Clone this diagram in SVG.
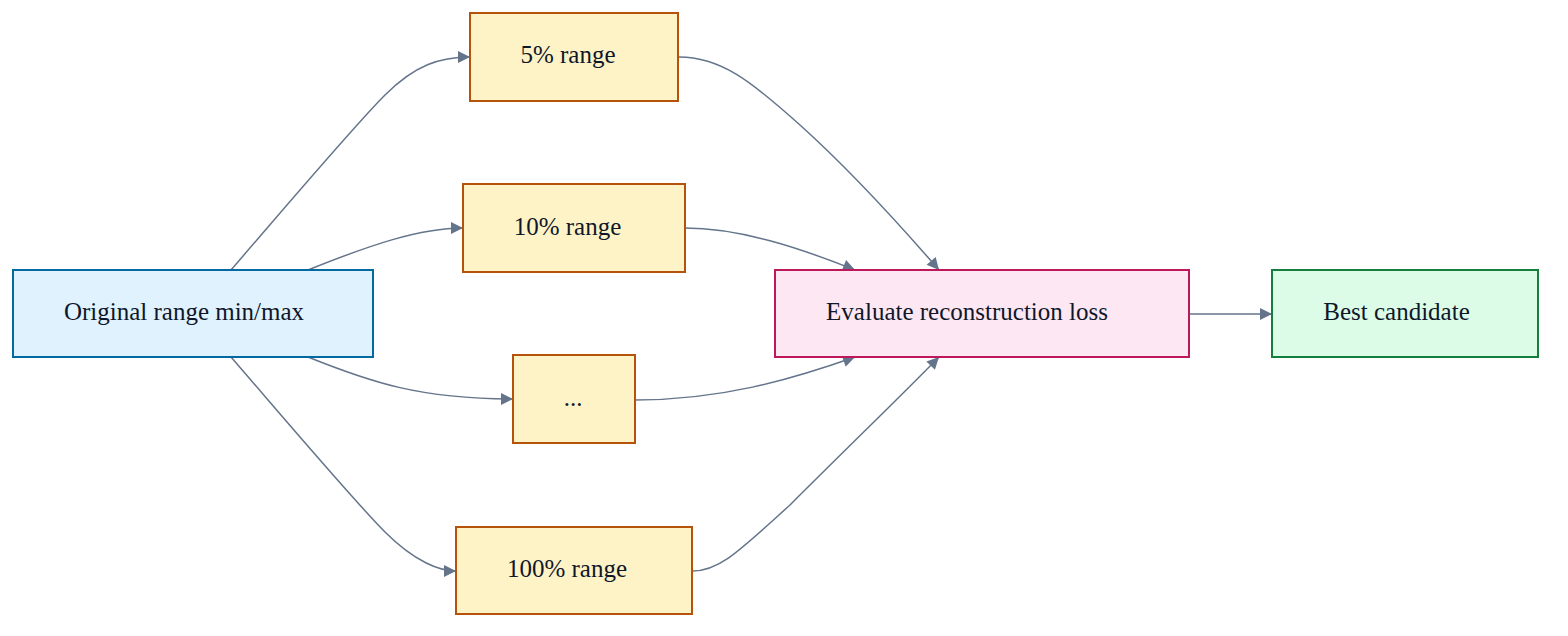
<svg xmlns="http://www.w3.org/2000/svg" width="1568" height="636" viewBox="0 0 1568 636">
<defs>
<style>
.n rect{stroke-width:2}
.t{font-family:"Liberation Serif","Times New Roman",serif;font-size:25px;fill:#0f172a;text-anchor:middle}
.blue rect{fill:#e0f2fe;stroke:#0369a1}
.yel rect{fill:#fef3c7;stroke:#b45309}
.pink rect{fill:#fce7f3;stroke:#be185d}
.green rect{fill:#dcfce7;stroke:#15803d}
.e path{fill:none;stroke:#64748b;stroke-width:1.5;marker-end:url(#arr)}
</style>
<marker id="arr" viewBox="0 0 10 10" refX="10" refY="5" markerUnits="userSpaceOnUse" markerWidth="14" markerHeight="12" orient="auto">
<path d="M0,0 L10,5 L0,10 z" fill="#64748b"/>
</marker>
</defs>
<rect width="1568" height="636" fill="#ffffff"/>
<g id="edges" class="e">
<path d="M231,270 C300,190 355,125 385,95 C415,65 440,57 470,57"/>
<path d="M308,270 C370,245 420,228 463,228"/>
<path d="M308,357 C370,382 420,399 513,399"/>
<path d="M231,357 C300,437 355,502 385,532 C415,562 440,571 456,571"/>
<path d="M679,57 C720,57 750,80 800,125 C850,170 900,225 939,270"/>
<path d="M685,228 C740,228 800,248 855,270"/>
<path d="M635,400 C720,400 790,380 855,357"/>
<path d="M692,571 C720,571 740,550 790,505 C850,445 900,397 939,357"/>
<path d="M1189,314 L1272,314"/>
</g>
<g id="orig" class="n blue"><rect x="13" y="270" width="360" height="87"/><text class="t" x="184" y="320">Original range min/max</text></g>
<g id="r5" class="n yel"><rect x="470" y="13" width="208" height="88"/><text class="t" x="568" y="63">5% range</text></g>
<g id="r10" class="n yel"><rect x="463" y="184" width="222" height="88"/><text class="t" x="567.5" y="235">10% range</text></g>
<g id="rdots" class="n yel"><rect x="513" y="355" width="122" height="88"/><text class="t" x="573" y="406">...</text></g>
<g id="r100" class="n yel"><rect x="456" y="527" width="236" height="87"/><text class="t" x="567" y="577">100% range</text></g>
<g id="eval" class="n pink"><rect x="775" y="270" width="414" height="87"/><text class="t" x="967" y="320">Evaluate reconstruction loss</text></g>
<g id="best" class="n green"><rect x="1272" y="270" width="266" height="87"/><text class="t" x="1396.5" y="320">Best candidate</text></g>
</svg>
